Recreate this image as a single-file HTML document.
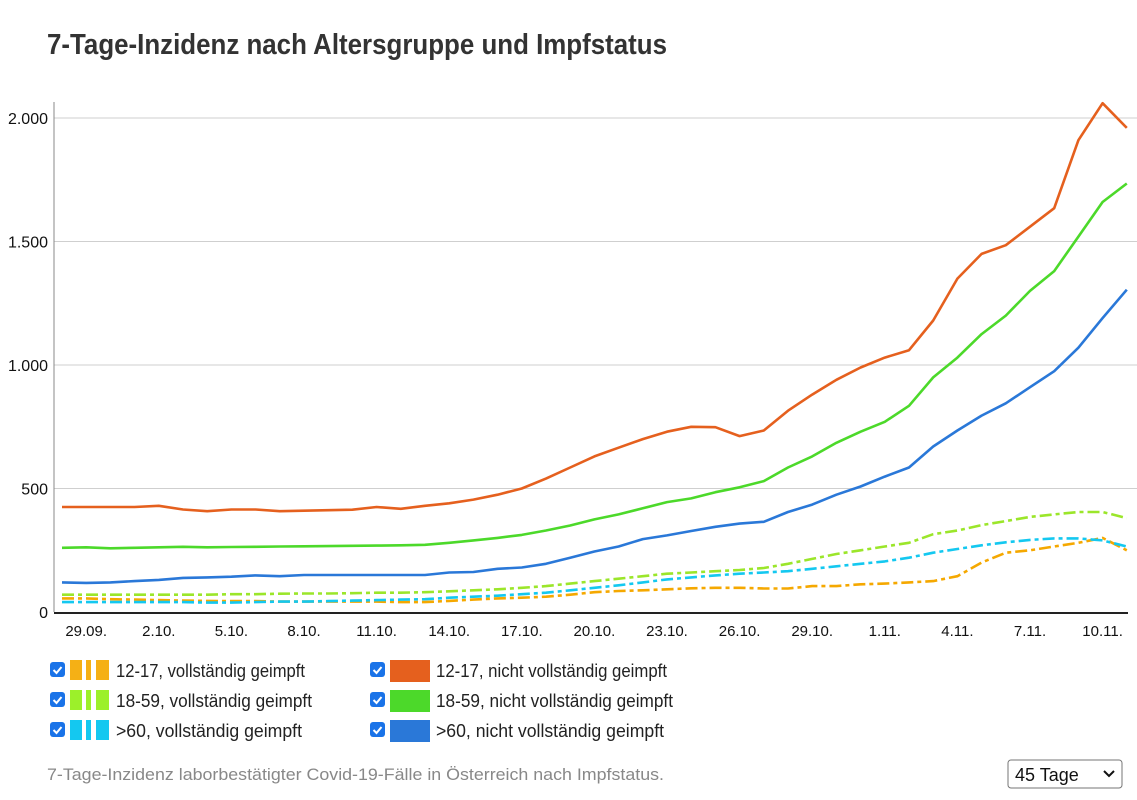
<!DOCTYPE html>
<html><head><meta charset="utf-8">
<style>
html,body{margin:0;padding:0;background:#fff;}
body{width:1137px;height:800px;overflow:hidden;font-family:"Liberation Sans",sans-serif;}
svg{display:block;}
</style></head>
<body>
<svg id="chart" width="1137" height="800" xmlns="http://www.w3.org/2000/svg">
<text x="47" y="54" font-family="Liberation Sans, sans-serif" font-weight="bold" font-size="29" fill="#333" textLength="620" lengthAdjust="spacingAndGlyphs">7-Tage-Inzidenz nach Altersgruppe und Impfstatus</text>
<g id="grid"></g>
<g id="series"></g>
<g id="xaxis"></g>
<g id="legend"></g>
<text x="47" y="780" font-size="17" fill="#888" textLength="617" lengthAdjust="spacingAndGlyphs">7-Tage-Inzidenz laborbestätigter Covid-19-Fälle in Österreich nach Impfstatus.</text>
<g>
<rect x="1008" y="760" width="114" height="28" rx="3" fill="#fff" stroke="#767676" stroke-width="1"/>
<text x="1015" y="781" font-size="18" fill="#111">45 Tage</text>
<path d="M1104 771 l5 5 l5 -5" fill="none" stroke="#111" stroke-width="2"/>
</g>
</svg>
<script>
const yTicks = [0, 500, 1000, 1500, 2000];
const yTickLabels = ["0", "500", "1.000", "1.500", "2.000"];
const xTickIdx = [1,4,7,10,13,16,19,22,25,28,31,34,37,40,43];
const xTickLabels = ["29.09.","2.10.","5.10.","8.10.","11.10.","14.10.","17.10.","20.10.","23.10.","26.10.","29.10.","1.11.","4.11.","7.11.","10.11."];
const orangeNot = [425,425,425,425,430,415,408,415,415,408,410,412,414,425,418,430,440,455,475,500,540,585,630,665,700,730,750,748,712,735,815,880,940,990,1030,1060,1180,1350,1450,1485,1560,1635,1910,2060,1960];
const greenNot = [260,262,258,260,262,264,262,263,264,265,266,267,268,269,270,272,280,290,300,312,330,350,375,395,420,445,460,485,505,530,585,630,685,730,770,835,950,1030,1125,1200,1300,1380,1520,1660,1735];
const blueNot = [120,118,120,125,130,138,140,143,148,145,150,150,150,150,150,150,160,162,175,180,195,220,245,265,295,310,328,345,358,365,405,435,475,508,548,585,670,735,795,845,910,975,1070,1190,1305];
const limeVax = [70,70,70,70,70,70,70,72,72,74,75,75,76,78,78,80,84,88,92,98,105,115,125,135,145,155,160,165,170,178,195,215,235,250,265,280,315,330,352,368,385,395,405,405,380];
const cyanVax = [40,40,40,40,40,40,38,38,40,42,42,44,46,48,50,52,58,62,66,72,78,88,98,108,120,132,140,148,155,160,165,175,185,195,205,220,240,255,270,282,292,298,298,290,265];
const orangeVax = [55,55,52,50,48,46,45,44,44,42,42,42,42,42,40,40,45,50,55,58,62,70,80,85,88,92,96,98,98,95,95,105,105,112,115,120,125,145,200,240,250,265,280,300,250];

const NS="http://www.w3.org/2000/svg";
const X0=62, STEP=24.2, Y0=612, YK=494/2000;
function xs(i){return X0+i*STEP;}
function ys(v){return Y0-v*YK;}
function mk(tag,attrs,parent){const e=document.createElementNS(NS,tag);for(const k in attrs)e.setAttribute(k,attrs[k]);parent.appendChild(e);return e;}

const grid=document.getElementById('grid');
yTicks.forEach((t,i)=>{
  if(t>0){const l=mk('line',{x1:54,x2:1137,y1:ys(t),y2:ys(t),stroke:'#cfcfcf','stroke-width':1},grid);
  
  }
  const tx=mk('text',{x:48,y:ys(t)+6,'text-anchor':'end','font-size':16,fill:'#111'},grid);
  tx.textContent=yTickLabels[i];
  
  
});
const ya=mk('line',{x1:54,x2:54,y1:102,y2:612,stroke:'#888','stroke-width':1},grid);



const xa=document.getElementById('xaxis');
const xl=mk('line',{x1:54,x2:1128,y1:613,y2:613,stroke:'#222','stroke-width':2},xa);


xTickIdx.forEach((d,i)=>{
  const t=mk('text',{x:xs(d),y:636,'text-anchor':'middle','font-size':15,fill:'#111'},xa);
  t.textContent=xTickLabels[i];
  
  
});

const S=document.getElementById('series');
const seriesList=[
 {d:orangeVax,c:'#f5a800',dash:true,n:'line-12-17-vaccinated'},
 {d:cyanVax,c:'#14c8f0',dash:true,n:'line-60plus-vaccinated'},
 {d:limeVax,c:'#9be62a',dash:true,n:'line-18-59-vaccinated'},
 {d:blueNot,c:'#2a78d8',dash:false,n:'line-60plus-unvaccinated'},
 {d:greenNot,c:'#4cd92a',dash:false,n:'line-18-59-unvaccinated'},
 {d:orangeNot,c:'#e5601e',dash:false,n:'line-12-17-unvaccinated'}
];
seriesList.forEach(s=>{
  const pts=s.d.map((v,i)=>xs(i).toFixed(1)+','+ys(v).toFixed(1)).join(' ');
  const a={points:pts,fill:'none',stroke:s.c,'stroke-width':2.6,'stroke-linejoin':'round'};
  if(s.dash)a['stroke-dasharray']='12 4 4 4';
  const p=mk('polyline',a,S);
  
  
});

const L=document.getElementById('legend');
const legendItems=[
 {x:50,y:670,c:'#f5b015',dash:true,t:'12-17, vollständig geimpft',w:189},
 {x:50,y:700,c:'#9cf02a',dash:true,t:'18-59, vollständig geimpft',w:196},
 {x:50,y:730,c:'#14c8f0',dash:true,t:'>60, vollständig geimpft',w:186},
 {x:370,y:670,c:'#e5601e',dash:false,t:'12-17, nicht vollständig geimpft',w:231},
 {x:370,y:700,c:'#4cd92a',dash:false,t:'18-59, nicht vollständig geimpft',w:237},
 {x:370,y:730,c:'#2a78d8',dash:false,t:'>60, nicht vollständig geimpft',w:228}
];
legendItems.forEach(it=>{
  const g=mk('g',{},L);
  
  
  mk('rect',{x:it.x,y:it.y-8,width:15,height:15,rx:3,fill:'#1a73e8'},g);
  mk('path',{d:`M${it.x+3.5} ${it.y} l3 3 l5 -6`,fill:'none',stroke:'#fff','stroke-width':2},g);
  const sx=it.x+20;
  if(it.dash){
    mk('rect',{x:sx,y:it.y-10,width:12,height:20,fill:it.c},g);
    mk('rect',{x:sx+16,y:it.y-10,width:5,height:20,fill:it.c},g);
    mk('rect',{x:sx+26,y:it.y-10,width:13,height:20,fill:it.c},g);
  } else {
    mk('rect',{x:sx,y:it.y-10,width:40,height:22,fill:it.c},g);
  }
  const t=mk('text',{x:sx+46,y:it.y+7,'font-size':18,fill:'#222',textLength:it.w,lengthAdjust:'spacingAndGlyphs'},g);
  t.textContent=it.t;
});
</script>
</body></html>
